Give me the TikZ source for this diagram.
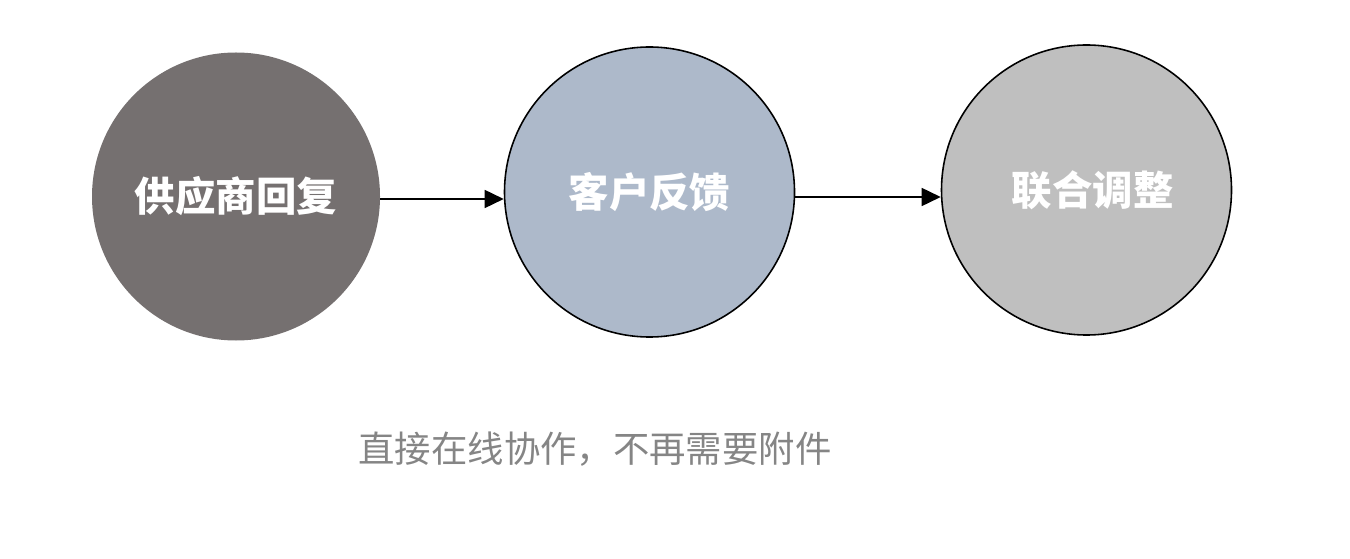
\documentclass[tikz,border=0pt]{standalone}
\usepackage{fontspec}
\newfontfamily\cjk{Noto Sans CJK SC}
\usepackage{xcolor}
\usetikzlibrary{arrows, arrows.meta}
\usetikzlibrary{calc}
\definecolor{supfill}{HTML}{757070}
\definecolor{custfill}{HTML}{ADB9CA}
\definecolor{adjfill}{HTML}{BFBFBF}
\definecolor{notegray}{HTML}{858585}

\begin{document}
\begin{tikzpicture}[
    stage/.style={circle, inner sep=0pt, minimum size=5.8cm, text=white,
      font=\cjk\bfseries\fontsize{23}{28}\selectfont},
    arr/.style={-{Triangle[length=0.38cm, width=0.36cm]}, line width=0.9pt}
  ]
      \useasboundingbox (0,0) rectangle (27,-11.18);

      \node[stage, fill=supfill, minimum size=5.76cm] (sup) at (4.72,-3.93) {供应商回复};
      \node[stage, fill=custfill, draw, line width=0.9pt] (cust) at (12.99,-3.84) {客户反馈};
      \node[stage, fill=adjfill, draw, line width=0.9pt] (adj) at (21.73,-3.8) {\raisebox{-0.15cm}{\hspace*{0.25cm}联合调整}};

      \node[text=notegray, font=\cjk\fontsize{20.7}{25}\selectfont] (note) at (11.9,-8.98) {直接在线协作，不再需要附件};

      \draw[arr] ([yshift=-0.05cm]sup.east) -- ([yshift=-0.05cm]sup.east -| cust.west);
      \draw[arr] ([yshift=-0.1cm]cust.east) -- ([yshift=-0.1cm]cust.east -| adj.west);
    \end{tikzpicture}
\end{document}
